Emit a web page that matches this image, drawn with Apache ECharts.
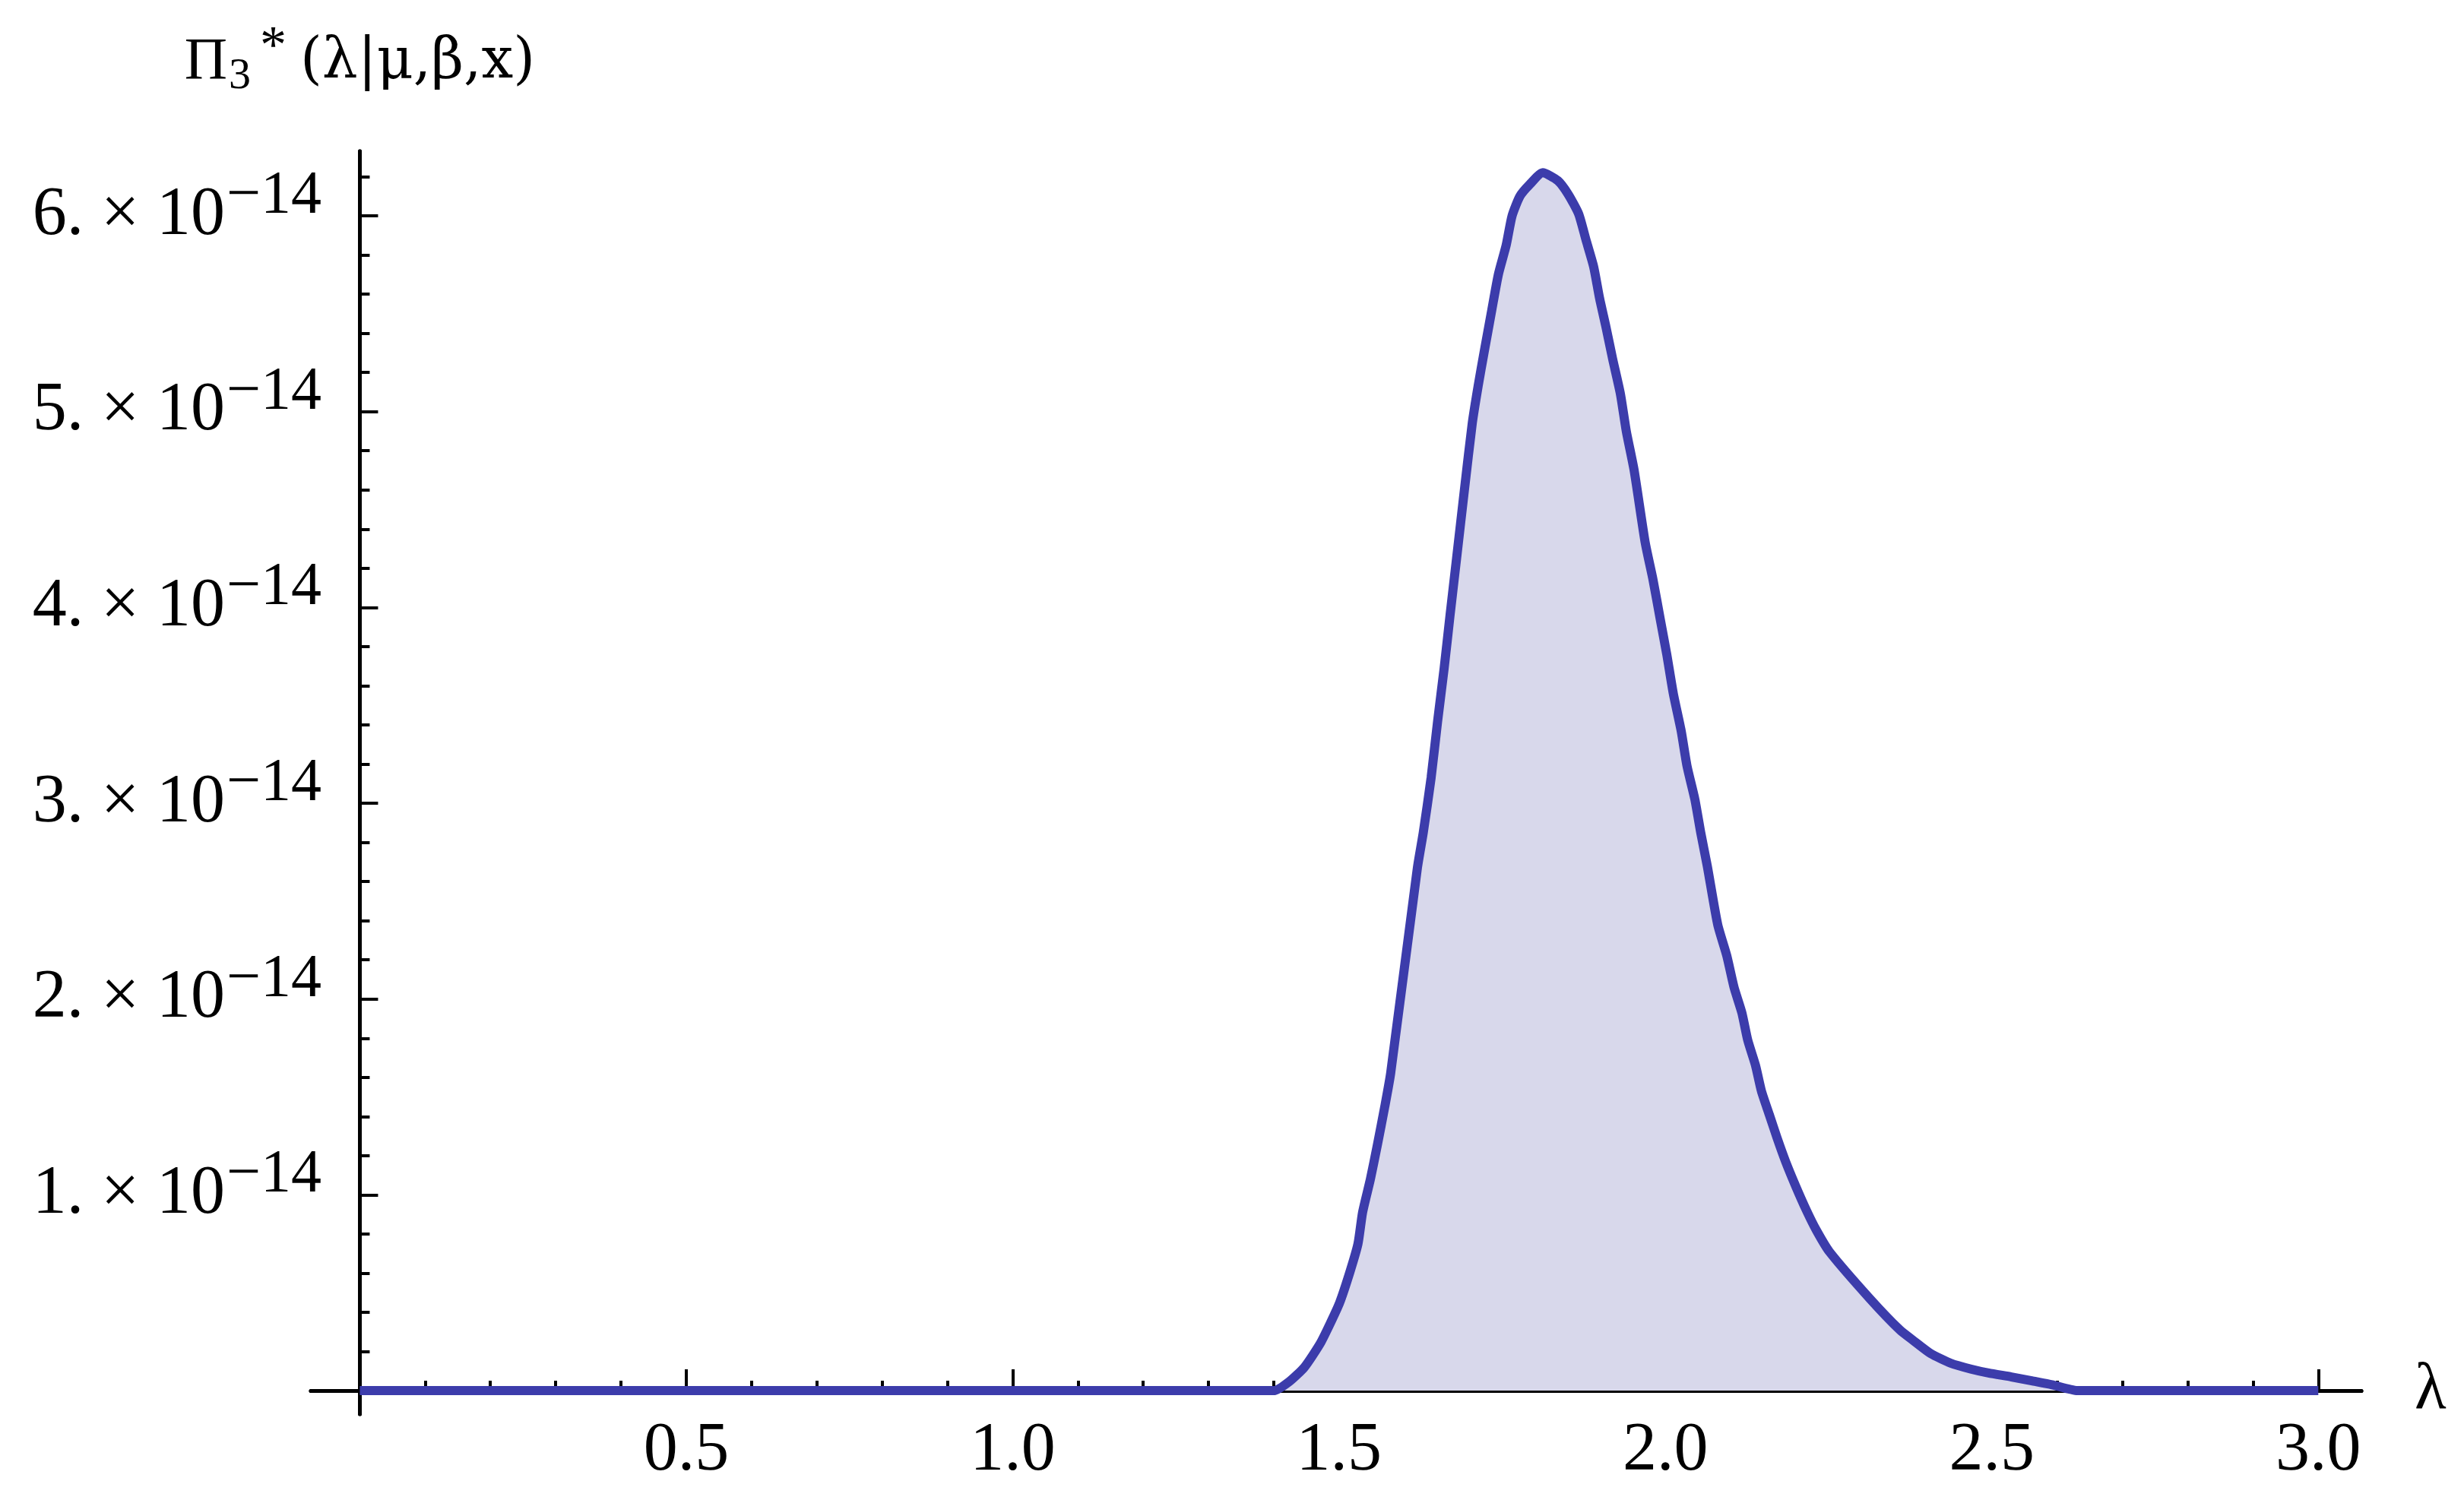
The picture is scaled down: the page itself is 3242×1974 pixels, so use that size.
<!DOCTYPE html>
<html>
<head>
<meta charset="utf-8">
<script src="https://cdn.jsdelivr.net/npm/echarts@6/dist/echarts.min.js"></script>
<style>
  html, body { margin: 0; padding: 0; background: #fff; }
  #chart { width: 3242px; height: 1974px; }
</style>
</head>
<body>
<div id="chart"></div>
<script>
// lambda values and density (in units of 1e-14)
var lambda = [0, 1.400, 1.424, 1.447, 1.471, 1.486, 1.501, 1.517, 1.529, 1.536, 1.548, 1.559, 1.570, 1.579,
  1.620, 1.629, 1.641, 1.651, 1.661, 1.670, 1.680, 1.692, 1.704, 1.713, 1.722, 1.734, 1.744, 1.756, 1.765,
  1.777, 1.792, 1.812, 1.835, 1.851, 1.867, 1.878, 1.890, 1.899, 1.909, 1.919, 1.931, 1.940, 1.952, 1.969,
  1.981, 1.992, 2.002, 2.012, 2.024, 2.033, 2.045, 2.054, 2.064, 2.080, 2.094, 2.105, 2.117, 2.126, 2.138,
  2.147, 2.159, 2.171, 2.184, 2.200, 2.216, 2.231, 2.251, 2.313, 2.359, 2.382, 2.406, 2.437, 2.468, 2.495,
  2.530, 2.561, 2.592, 2.631, 3.000]
var density = [0, 0, 0.047, 0.12, 0.24, 0.34, 0.45, 0.61, 0.75, 0.91, 1.08, 1.26, 1.45, 1.62,
  2.67, 2.85, 3.13, 3.42, 3.69, 3.96, 4.25, 4.60, 4.94, 5.13, 5.30, 5.52, 5.70, 5.85, 6.00,
  6.10, 6.16, 6.22, 6.18, 6.11, 6.01, 5.88, 5.74, 5.58, 5.43, 5.27, 5.09, 4.90, 4.70, 4.33,
  4.14, 3.94, 3.76, 3.56, 3.37, 3.19, 3.02, 2.85, 2.68, 2.38, 2.22, 2.06, 1.93, 1.79, 1.66,
  1.53, 1.41, 1.29, 1.17, 1.04, 0.92, 0.82, 0.71, 0.47, 0.31, 0.25, 0.19, 0.14, 0.11, 0.09,
  0.07, 0.05, 0.03, 0, 0]

var xMajor = [0.5, 1.0, 1.5, 2.0, 2.5, 3.0]
var xMinor = [0.1, 0.2, 0.3, 0.4, 0.6, 0.7, 0.8, 0.9, 1.1, 1.2, 1.3, 1.4, 1.6, 1.7, 1.8, 1.9,
  2.1, 2.2, 2.3, 2.4, 2.6, 2.7, 2.8, 2.9]
var yMajor = [1, 2, 3, 4, 5, 6]
var yMinor = [0.2, 0.4, 0.6, 0.8, 1.2, 1.4, 1.6, 1.8, 2.2, 2.4, 2.6, 2.8, 3.2, 3.4, 3.6, 3.8,
  4.2, 4.4, 4.6, 4.8, 5.2, 5.4, 5.6, 5.8, 6.2]

var font = 'Liberation Serif'
var axisLine = { onZero: true, onZeroAxisIndex: 0, lineStyle: { color: '#000', width: 5 } }

var chart = echarts.init(document.getElementById('chart'))
var option = {
  backgroundColor: '#fff',
  animation: false,
  grid: { left: 409, right: 135, top: 199, bottom: 113 },
  xAxis: [
    {
      type: 'value', position: 'bottom', min: -0.075, max: 3.066,
      axisLine: axisLine,
      axisTick: { inside: true, length: 28, customValues: xMajor, lineStyle: { color: '#000', width: 4 } },
      axisLabel: {
        customValues: xMajor, margin: 4, color: '#000', fontFamily: font, fontSize: 90,
        formatter: function (v) { return v.toFixed(1) }
      },
      splitLine: { show: false },
      name: 'λ', nameLocation: 'end', nameGap: 70,
      nameTextStyle: { color: '#000', fontFamily: font, fontSize: 86, verticalAlign: 'middle', padding: [14, 0, 0, 0] }
    },
    {
      type: 'value', position: 'bottom', min: -0.075, max: 3.066,
      axisLine: axisLine,
      axisTick: { inside: true, length: 13, customValues: xMinor, lineStyle: { color: '#000', width: 4 } },
      axisLabel: { show: false },
      splitLine: { show: false }
    }
  ],
  yAxis: [
    {
      type: 'value', position: 'left', min: -0.12, max: 6.33,
      axisLine: axisLine,
      axisTick: { inside: true, length: 24, customValues: yMajor, lineStyle: { color: '#000', width: 4 } },
      axisLabel: {
        customValues: yMajor, margin: -14, color: '#000', fontFamily: font,
        formatter: function (v) { return '{b|' + v + '. × 10}{e|−14}' },
        rich: {
          b: { fontFamily: font, fontSize: 90, color: '#000' },
          e: { fontFamily: font, fontSize: 80, color: '#000', padding: [0, 0, 50, 2] }
        }
      },
      splitLine: { show: false },
      name: '{p|Π}{s|3}{t|*}{q|(λ|μ,β,x)}', nameLocation: 'end', nameGap: 62,
      nameTextStyle: {
        align: 'center',
        rich: {
          p: { fontFamily: font, fontSize: 78, color: '#000' },
          s: { fontFamily: font, fontSize: 58, color: '#000', padding: [36, 0, 0, 2] },
          t: { fontFamily: font, fontSize: 70, color: '#000', padding: [0, 18, 38, 12] },
          q: { fontFamily: 'DejaVu Serif', fontSize: 74, color: '#000' }
        }
      }
    },
    {
      type: 'value', position: 'left', min: -0.12, max: 6.33,
      axisLine: axisLine,
      axisTick: { inside: true, length: 13, customValues: yMinor, lineStyle: { color: '#000', width: 4 } },
      axisLabel: { show: false },
      splitLine: { show: false }
    }
  ],
  series: [
    {
      type: 'line',
      xAxisIndex: 0,
      yAxisIndex: 0,
      data: lambda.map(function (x, i) { return [x, density[i]] }),
      showSymbol: false,
      smooth: 0.2,
      lineStyle: { color: '#3c3cab', width: 12, join: 'round' },
      areaStyle: { color: '#d8d8eb', opacity: 1 },
      z: 1
    }
  ]
}
chart.setOption(option)
</script>
</body>
</html>
